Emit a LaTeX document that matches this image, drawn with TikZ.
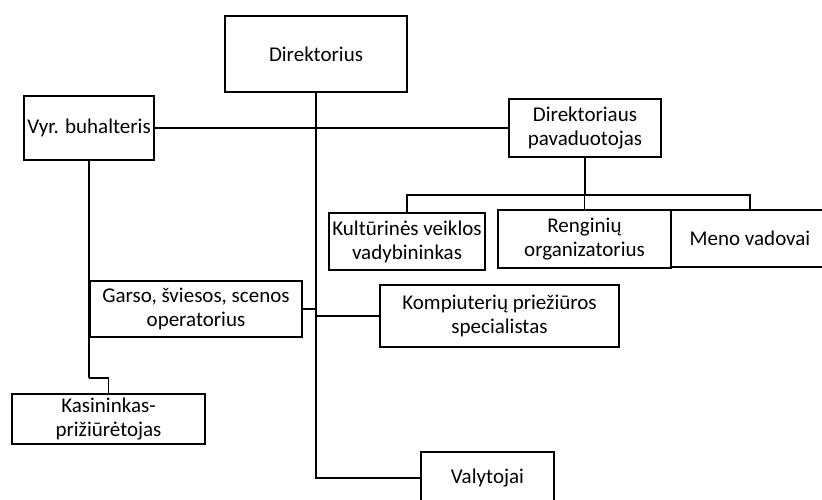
\documentclass[tikz,border=0pt]{standalone}
\usepackage{fontspec}
\setmainfont{Carlito}
\usepackage{tikz}
\usetikzlibrary{shapes,arrows.meta}
\tikzset{orgbox/.style={rectangle, draw, line width=1.7pt, align=center, inner sep=0pt, font=\fontsize{21}{24}\selectfont}}
\newcommand{\orgnode}[5] {\node at (#1) (#2) [orgbox, minimum width=#3pt, minimum height=#4pt] {#5};}
\newcommand{\orgline}[2] {\draw [line width=1.2pt] (#1) -- (#2);}
\newcommand{\orgdown}[2] {\draw [line width=1.2pt] (#1) -| (#2);}

\begin{document}
\begin{tikzpicture}[x=1pt, y=-1pt]
\useasboundingbox (0,0) rectangle (822,500);

\orgnode {316,54} {dir} {182} {76} {Direktorius}
\orgnode {89,128} {vyr} {130} {64} {Vyr. buhalteris}
\orgnode {585,128} {pav} {152} {58} {Direktoriaus\\pavaduotojas}
\orgnode {407,241.5} {kul} {156} {57} {Kultūrinės veiklos\\vadybininkas}
\orgnode {584.5,239} {ren} {173} {58} {Renginių\\organizatorius}
\orgnode {750,238.5} {men} {158} {57} {Meno vadovai}
\orgnode {196,309} {gar} {212} {56} {Garso, šviesos, scenos\\operatorius}
\orgnode {499.5,316} {kom} {239} {62} {Kompiuterių priežiūros\\specialistas}
\orgnode {108.5,419} {kas} {193} {50} {Kasininkas-\\prižiūrėtojas}
\orgnode {487.5,478} {val} {133} {52} {Valytojai}

\coordinate (bus) at (585,195);
\coordinate (kink) at (89,378);

\draw [line width=1.2pt] (dir.south) |- (val.west);
\orgline{vyr.east}{pav.west}
\orgline{gar.east}{gar.east -| dir.south}
\orgline{dir.south |- kom.west}{kom.west}
\orgline{vyr.south}{kink}
\orgdown{kink}{kas.north}
\orgline{pav.south}{bus}
\orgdown{bus}{kul.north}
\orgdown{bus}{ren.north}
\orgdown{bus}{men.north}

\end{tikzpicture}
\end{document}
